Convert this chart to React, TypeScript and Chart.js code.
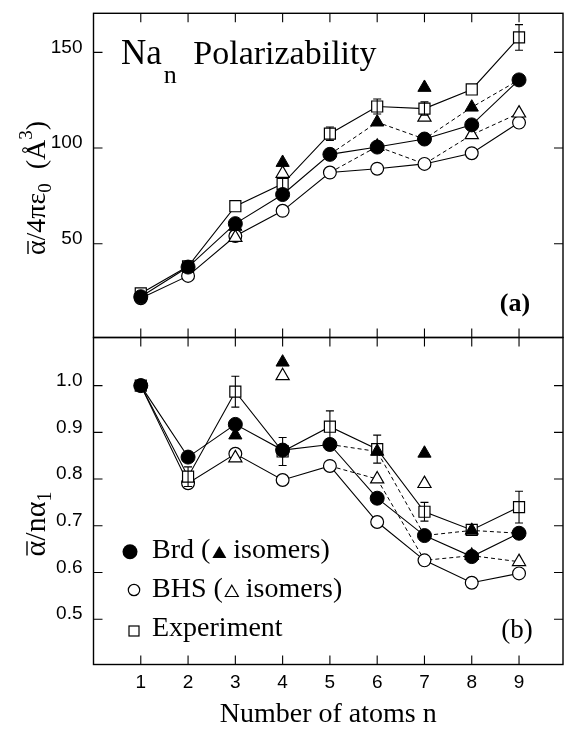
import React, { useEffect, useRef } from "react";
import { Chart, registerables } from "chart.js";

Chart.register(...registerables);

// ---------- data ----------
const N = [1, 2, 3, 4, 5, 6, 7, 8, 9];
const X_TICKS = [1, 2, 3, 4, 5, 6, 7, 8, 9];
const Y_TICKS_A = [50, 100, 150];
const Y_TICKS_B = [0.5, 0.6, 0.7, 0.8, 0.9, 1.0];

// Panel (a): mean polarizability / 4πε0 (Å^3)
const brdA = [22.3, 37.8, 60.5, 75.7, 96.7, 100.5, 104.7, 112.1, 135.6];
const bhsA = [21.5, 33.2, 54.0, 67.2, 87.2, 89.2, 91.7, 97.3, 113.3];
const expA = [24.0, 38.2, 69.6, 81.3, 107.5, 121.7, 120.6, 130.6, 157.8];
const expErrA = [0, 0, 0, 3, 3.5, 3.9, 3.5, 0, 6.7];
const brdIsoA = [null, null, 59.0, 92.4, null, 113.5, 131.6, 121.3, null];
const bhsIsoA = [null, null, 53.2, 86.7, null, 100.8, 116.0, 106.9, 118.2];
const brdDashA = [null, null, null, null, 96.7, 113.5, 104.7, 121.3, 135.6];
const bhsDashA = [null, null, null, null, 87.2, 100.8, 91.7, 106.9, 118.2];

// Panel (b): polarizability per atom / α1
const brdB = [1.0, 0.847, 0.917, 0.862, 0.874, 0.759, 0.679, 0.634, 0.684];
const bhsB = [1.0, 0.791, 0.854, 0.798, 0.828, 0.708, 0.626, 0.578, 0.598];
const expB = [1.0, 0.805, 0.987, 0.859, 0.912, 0.864, 0.73, 0.691, 0.74];
const expErrB = [0, 0.021, 0.033, 0.03, 0.034, 0.03, 0.02, 0, 0.034];
const brdIsoB = [null, null, 0.894, 1.05, null, 0.859, 0.855, 0.69, null];
const bhsIsoB = [null, null, 0.845, 1.021, null, 0.8, 0.79, 0.636, 0.623];
const brdDashB = [null, null, null, null, 0.874, 0.859, 0.679, 0.69, 0.684];
const bhsDashB = [null, null, null, null, 0.828, 0.8, 0.626, 0.636, 0.623];

const LEGEND_LABELS = ["Brd (", " isomers)", "BHS (", " isomers)", "Experiment"];

// ---------- layout constants ----------
const W = 564;
const TOP_H = 345;
const BOT_TOP = 330;
const BOT_H = 729 - BOT_TOP;
const SERIF = "'Liberation Serif', 'Times New Roman', serif";
const SANS = "'Liberation Sans', Arial, sans-serif";

type Piece = { t: string; size: number; dy?: number; bold?: boolean; bar?: boolean; gap?: number };

function pieceFont(p: Piece) {
  return `${p.bold ? "bold " : ""}${p.size}px ${SERIF}`;
}

function drawRich(ctx: CanvasRenderingContext2D, pieces: Piece[], x: number, y: number, center: boolean, rot: boolean) {
  ctx.save();
  ctx.translate(x, y);
  if (rot) ctx.rotate(-Math.PI / 2);
  ctx.fillStyle = "#000";
  ctx.strokeStyle = "#000";
  ctx.textAlign = "left";
  ctx.textBaseline = "alphabetic";
  let total = 0;
  for (const p of pieces) {
    ctx.font = pieceFont(p);
    total += ctx.measureText(p.t).width + (p.gap || 0);
  }
  let cx = center ? -total / 2 : 0;
  for (const p of pieces) {
    ctx.font = pieceFont(p);
    const pw = ctx.measureText(p.t).width;
    ctx.fillText(p.t, cx, p.dy || 0);
    if (p.bar) {
      const by = (p.dy || 0) - p.size * 0.5 - 3;
      ctx.lineWidth = 1.4;
      ctx.beginPath();
      ctx.moveTo(cx + 1, by);
      ctx.lineTo(cx + pw - 0.5, by);
      ctx.stroke();
    }
    cx += pw + (p.gap || 0);
  }
  ctx.restore();
}

function drawTri(ctx: CanvasRenderingContext2D, cx: number, baseY: number, w: number, filled: boolean) {
  const h = w * 0.866;
  ctx.beginPath();
  ctx.moveTo(cx - w / 2, baseY);
  ctx.lineTo(cx + w / 2, baseY);
  ctx.lineTo(cx, baseY - h);
  ctx.closePath();
  if (filled) ctx.fill();
  else {
    ctx.lineWidth = 1.2;
    ctx.stroke();
  }
}

function buildConfig(panel: "a" | "b"): any {
  const isA = panel === "a";
  const brd = isA ? brdA : brdB;
  const bhs = isA ? bhsA : bhsB;
  const exp = isA ? expA : expB;
  const expErr = isA ? expErrA : expErrB;
  const brdIso = isA ? brdIsoA : brdIsoB;
  const bhsIso = isA ? bhsIsoA : bhsIsoB;
  const brdDash = isA ? brdDashA : brdDashB;
  const bhsDash = isA ? bhsDashA : bhsDashB;
  const yTicks = isA ? Y_TICKS_A : Y_TICKS_B;
  const off = isA ? 0 : BOT_TOP;

  const xy = (arr: (number | null)[]) => N.map((n, i) => ({ x: n, y: arr[i] }));

  const datasets = [
    {
      label: "brdIso", data: xy(brdIso), showLine: false, pointStyle: "triangle", pointRadius: 7.6,
      pointBackgroundColor: "#000", pointBorderColor: "#000", pointBorderWidth: 1, order: 0,
    },
    {
      label: "brd", data: xy(brd), borderColor: "#000", borderWidth: 1.1, pointStyle: "circle", pointRadius: 7,
      pointBackgroundColor: "#000", pointBorderColor: "#000", pointBorderWidth: 1, order: 1,
    },
    {
      label: "exp", data: xy(exp), borderColor: "#000", borderWidth: 1.1, pointStyle: "rect", pointRadius: 7.8,
      pointBackgroundColor: "#fff", pointBorderColor: "#000", pointBorderWidth: 1.2, order: 2,
    },
    {
      label: "bhsIso", data: xy(bhsIso), showLine: false, pointStyle: "triangle", pointRadius: 7.6,
      pointBackgroundColor: "#fff", pointBorderColor: "#000", pointBorderWidth: 1.2, order: 3,
    },
    {
      label: "bhs", data: xy(bhs), borderColor: "#000", borderWidth: 1.1, pointStyle: "circle", pointRadius: 6.4,
      pointBackgroundColor: "#fff", pointBorderColor: "#000", pointBorderWidth: 1.2, order: 4,
    },
    {
      label: "brdDash", data: xy(brdDash), borderColor: "#000", borderWidth: 1, borderDash: [4, 3], pointRadius: 0, order: 5,
    },
    {
      label: "bhsDash", data: xy(bhsDash), borderColor: "#000", borderWidth: 1, borderDash: [4, 3], pointRadius: 0, order: 6,
    },
  ];

  const framePlugin = {
    id: "frame" + panel,
    afterDraw(chart: any) {
      const { ctx, chartArea } = chart;
      const { left, right, top, bottom } = chartArea;
      const xs = chart.scales.x;
      const ys = chart.scales.y;
      ctx.save();
      ctx.strokeStyle = "#000";
      ctx.lineWidth = 1.4;
      ctx.strokeRect(left, top, right - left, bottom - top);
      ctx.lineWidth = 1.1;
      const TL = 9;
      ctx.beginPath();
      for (const v of X_TICKS) {
        const px = xs.getPixelForValue(v);
        ctx.moveTo(px, top);
        ctx.lineTo(px, top + TL);
        ctx.moveTo(px, bottom);
        ctx.lineTo(px, bottom - TL);
      }
      for (const v of yTicks) {
        const py = ys.getPixelForValue(v);
        ctx.moveTo(left, py);
        ctx.lineTo(left + TL, py);
        ctx.moveTo(right, py);
        ctx.lineTo(right - TL, py);
      }
      ctx.stroke();
      ctx.restore();
    },
  };

  const errPlugin = {
    id: "err" + panel,
    afterDatasetsDraw(chart: any) {
      const { ctx } = chart;
      const xs = chart.scales.x;
      const ys = chart.scales.y;
      ctx.save();
      ctx.strokeStyle = "#000";
      ctx.lineWidth = 1.1;
      ctx.beginPath();
      N.forEach((n, i) => {
        const e = expErr[i];
        if (!e) return;
        const px = xs.getPixelForValue(n);
        const y1 = ys.getPixelForValue(exp[i] + e);
        const y2 = ys.getPixelForValue(exp[i] - e);
        ctx.moveTo(px, y1);
        ctx.lineTo(px, y2);
        ctx.moveTo(px - 4, y1);
        ctx.lineTo(px + 4, y1);
        ctx.moveTo(px - 4, y2);
        ctx.lineTo(px + 4, y2);
      });
      ctx.stroke();
      ctx.restore();
    },
  };

  const textPlugin = {
    id: "text" + panel,
    afterDraw(chart: any) {
      const ctx: CanvasRenderingContext2D = chart.ctx;
      ctx.save();
      ctx.fillStyle = "#000";
      ctx.strokeStyle = "#000";
      if (isA) {
        drawRich(ctx, [
          { t: "Na", size: 35, gap: 2 },
          { t: "n", size: 26, dy: 19, gap: 8 },
          { t: " Polarizability", size: 34 },
        ], 121, 63.5, false, false);
        ctx.font = `bold 26px ${SERIF}`;
        ctx.textAlign = "center";
        ctx.textBaseline = "middle";
        ctx.fillText("(a)", 515, 304);
        drawRich(ctx, [
          { t: "α", size: 28, bar: true },
          { t: "/4πε", size: 28 },
          { t: "0", size: 19, dy: 6 },
          { t: "  (", size: 28 },
          { t: "Å", size: 28 },
          { t: "3", size: 19, dy: -13 },
          { t: ")", size: 28 },
        ], 45, 188, true, true);
      } else {
        ctx.font = `27px ${SERIF}`;
        ctx.textAlign = "center";
        ctx.textBaseline = "middle";
        ctx.fillText("(b)", 517, 630.5 - off);
        drawRich(ctx, [
          { t: "α", size: 30, bar: true },
          { t: "/nα", size: 30 },
          { t: "1", size: 20, dy: 6 },
        ], 45, 524 - off, true, true);

        // legend
        ctx.textAlign = "left";
        ctx.textBaseline = "alphabetic";
        ctx.font = `28px ${SERIF}`;
        // row 1: Brd
        ctx.beginPath();
        ctx.arc(130, 551.7 - off, 7.5, 0, Math.PI * 2);
        ctx.fill();
        let x = 152;
        let base = 558 - off;
        ctx.fillText(LEGEND_LABELS[0], x, base);
        x += ctx.measureText(LEGEND_LABELS[0]).width + 2;
        drawTri(ctx, x + 7, base, 14, true);
        x += 14;
        ctx.fillText(LEGEND_LABELS[1], x, base);
        // row 2: BHS
        ctx.lineWidth = 1.2;
        ctx.beginPath();
        ctx.arc(134, 590 - off, 5.7, 0, Math.PI * 2);
        ctx.stroke();
        x = 152;
        base = 597 - off;
        ctx.fillText(LEGEND_LABELS[2], x, base);
        x += ctx.measureText(LEGEND_LABELS[2]).width + 2;
        drawTri(ctx, x + 7, base - 0.5, 13, false);
        x += 14;
        ctx.fillText(LEGEND_LABELS[3], x, base);
        // row 3: Experiment
        ctx.lineWidth = 1.2;
        ctx.strokeRect(129, 626 - off, 10, 10);
        ctx.fillText(LEGEND_LABELS[4], 152, 636 - off);
      }
      ctx.restore();
    },
  };

  const xScale: any = {
    type: "linear",
    min: 0,
    max: 9.93,
    display: !isA,
    grid: { display: false, drawTicks: false },
    border: { display: false },
    afterBuildTicks: (s: any) => {
      s.ticks = X_TICKS.map((v) => ({ value: v }));
    },
    afterFit: (s: any) => {
      if (!isA) s.height = 729 - BOT_TOP - 334.5;
      s.paddingLeft = 0;
      s.paddingRight = 0;
    },
    ticks: {
      color: "#000",
      font: { family: SANS, size: 19 },
      padding: 7,
      maxRotation: 0,
      autoSkip: false,
      callback: (v: any) => String(v),
    },
    title: {
      display: true,
      text: "Number of atoms n",
      color: "#000",
      font: { family: SERIF, size: 28, lineHeight: 1 },
      padding: { top: 0, bottom: 0 },
    },
  };

  const yScale: any = {
    type: "linear",
    min: isA ? 1 : 0.403,
    max: isA ? 170.4 : 1.103,
    grid: { display: false, drawTicks: false },
    border: { display: false },
    afterBuildTicks: (s: any) => {
      s.ticks = yTicks.map((v) => ({ value: v }));
    },
    afterFit: (s: any) => {
      s.width = 93.5;
      s.paddingTop = 0;
      s.paddingBottom = 0;
    },
    ticks: {
      color: "#000",
      font: { family: SANS, size: 19 },
      padding: 11,
      labelOffset: -5,
      autoSkip: false,
      callback: (v: any) => (isA ? String(v) : Number(v).toFixed(1)),
    },
  };

  return {
    type: "line",
    data: { datasets },
    options: {
      animation: false,
      responsive: false,
      events: [],
      layout: {
        autoPadding: false,
        padding: isA
          ? { top: 13.3, right: 1, bottom: TOP_H - 337.5, left: 0 }
          : { top: 337.5 - BOT_TOP, right: 1, bottom: 0, left: 0 },
      },
      plugins: { legend: { display: false }, tooltip: { enabled: false } },
      elements: { line: { tension: 0, fill: false } },
      scales: { x: xScale, y: yScale },
    },
    plugins: [errPlugin, framePlugin, textPlugin],
  };
}

export default function App() {
  const topRef = useRef<HTMLCanvasElement>(null);
  const botRef = useRef<HTMLCanvasElement>(null);

  useEffect(() => {
    const c1 = new Chart(topRef.current as HTMLCanvasElement, buildConfig("a"));
    const c2 = new Chart(botRef.current as HTMLCanvasElement, buildConfig("b"));
    return () => {
      c1.destroy();
      c2.destroy();
    };
  }, []);

  return (
    <div style={{ position: "fixed", left: 0, top: 0, width: W, height: 729, background: "#fff" }}>
      <canvas
        ref={topRef}
        width={W}
        height={TOP_H}
        style={{ position: "absolute", left: 0, top: 0, width: W, height: TOP_H }}
      />
      <canvas
        ref={botRef}
        width={W}
        height={BOT_H}
        style={{ position: "absolute", left: 0, top: BOT_TOP, width: W, height: BOT_H }}
      />
    </div>
  );
}
